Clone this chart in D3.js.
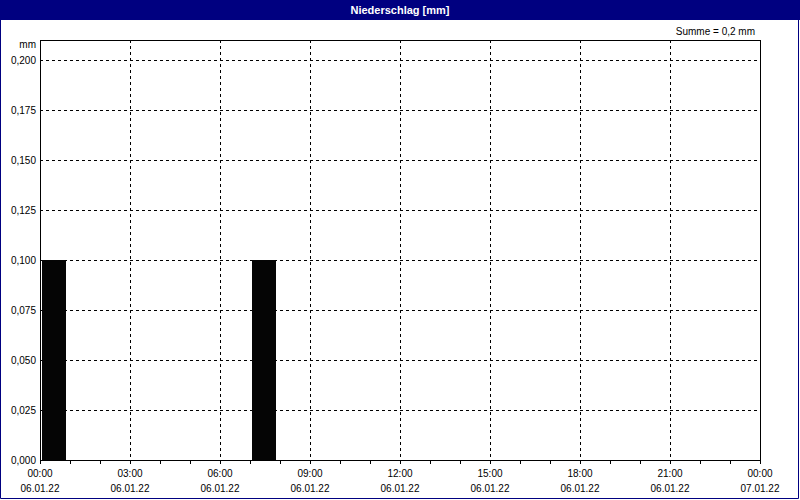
<!DOCTYPE html>
<html><head><meta charset="utf-8">
<script src="https://cdn.jsdelivr.net/npm/d3@7"></script>
<style>html,body{margin:0;padding:0;background:#fff;}svg{display:block;}</style>
</head><body>
<script>
const title = "Niederschlag [mm]";
const unitLabel = "mm";
const sumLabel = "Summe = 0,2 mm";
const hours = d3.range(24);
const values = [0.1,0,0,0,0,0,0,0.1,0,0,0,0,0,0,0,0,0,0,0,0,0,0,0,0];
const yTicks = [0,0.025,0.05,0.075,0.1,0.125,0.15,0.175,0.2];
const xTickHours = [0,3,6,9,12,15,18,21,24];
const xTimeLabels = ["00:00","03:00","06:00","09:00","12:00","15:00","18:00","21:00","00:00"];
const xDateLabels = ["06.01.22","06.01.22","06.01.22","06.01.22","06.01.22","06.01.22","06.01.22","06.01.22","07.01.22"];

const W=800,H=500;
const L=40,R=760,T=40,B=460;
const svg=d3.select("body").append("svg").attr("width",W).attr("height",H)
  .style("font-family","'Liberation Sans',Arial,sans-serif");
svg.append("rect").attr("width",W).attr("height",H).attr("fill","#fff");

const x=d3.scaleLinear().domain([0,24]).range([L,R]);
const y=d3.scaleLinear().domain([0,0.21]).range([B,T]);

// title bar
svg.append("rect").attr("x",0).attr("y",0).attr("width",W).attr("height",20).attr("fill","#000080");
svg.append("text").attr("x",400).attr("y",13.5).attr("text-anchor","middle").attr("fill","#fff")
  .attr("font-weight","bold").attr("font-size",11).text(title);
// outer border
svg.append("path").attr("d",`M0.5,20 V498.5 H798.5 V20`).attr("fill","none").attr("stroke","#000080");

// grid
const g=svg.append("g");
g.selectAll(".hg").data(yTicks.filter(v=>v>0)).join("line")
  .attr("x1",L).attr("x2",R).attr("y1",d=>Math.round(y(d))+0.5).attr("y2",d=>Math.round(y(d))+0.5)
  .attr("stroke","#000").attr("stroke-dasharray","3,3").attr("shape-rendering","crispEdges");
g.selectAll(".vg").data(xTickHours.filter(h=>h>0&&h<24)).join("line")
  .attr("y1",T).attr("y2",B).attr("x1",d=>Math.round(x(d))+0.5).attr("x2",d=>Math.round(x(d))+0.5)
  .attr("stroke","#000").attr("stroke-dasharray","3,3").attr("shape-rendering","crispEdges");

// bars
svg.selectAll(".bar").data(hours.map(h=>({h,v:values[h]})).filter(d=>d.v>0)).join("rect")
  .attr("x",d=>Math.round(x(d.h+0.07)))
  .attr("width",d=>Math.round(x(d.h+0.87))-Math.round(x(d.h+0.07)))
  .attr("y",d=>Math.round(y(d.v)))
  .attr("height",d=>B-Math.round(y(d.v)))
  .attr("fill","#050505");

// frame
svg.append("rect").attr("x",L+0.5).attr("y",T+0.5).attr("width",R-L).attr("height",B-T)
  .attr("fill","none").attr("stroke","#000").attr("shape-rendering","crispEdges");

// x ticks hourly
svg.selectAll(".xt").data(d3.range(0,25)).join("line")
  .attr("x1",d=>Math.round(x(d))+0.5).attr("x2",d=>Math.round(x(d))+0.5)
  .attr("y1",B).attr("y2",B+4).attr("stroke","#000").attr("shape-rendering","crispEdges");

// y labels
svg.selectAll(".yl").data(yTicks).join("text")
  .attr("x",36).attr("y",d=>y(d)+4).attr("text-anchor","end").attr("font-size",10).attr("fill","#000")
  .text(d=>d3.format(".3f")(d).replace(".",","));
svg.append("text").attr("x",36).attr("y",48).attr("text-anchor","end").attr("font-size",10).text(unitLabel);

// x labels
svg.selectAll(".xl").data(xTickHours).join("text")
  .attr("x",d=>x(d)).attr("y",477).attr("text-anchor","middle").attr("font-size",10).text((d,i)=>xTimeLabels[i]);
svg.selectAll(".xd").data(xTickHours).join("text")
  .attr("x",d=>x(d)).attr("y",492).attr("text-anchor","middle").attr("font-size",10).text((d,i)=>xDateLabels[i]);

svg.append("text").attr("x",755).attr("y",35).attr("text-anchor","end").attr("font-size",10).text(sumLabel);
</script>
</body></html>
